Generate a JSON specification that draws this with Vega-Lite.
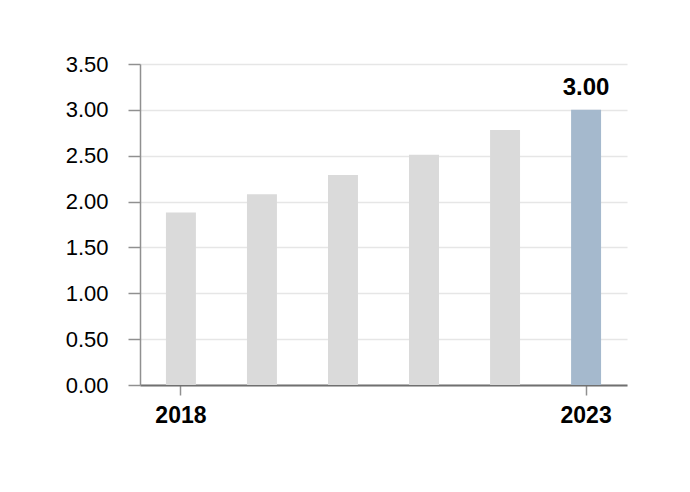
{
  "$schema": "https://vega.github.io/schema/vega-lite/v6.json",
  "width": 487,
  "height": 321,
  "autosize": {"type": "none"},
  "padding": {"left": 140, "top": 64, "right": 63, "bottom": 107},
  "background": "white",
  "data": {"values": [
    {"year": "2018", "value": 1.88, "hl": "no"},
    {"year": "2019", "value": 2.08, "hl": "no"},
    {"year": "2020", "value": 2.29, "hl": "no"},
    {"year": "2021", "value": 2.51, "hl": "no"},
    {"year": "2022", "value": 2.78, "hl": "no"},
    {"year": "2023", "value": 3.00, "hl": "yes"}
  ]},
  "config": {
    "view": {"stroke": null},
    "font": "Liberation Sans"
  },
  "encoding": {
    "x": {
      "field": "year", "type": "ordinal",
      "scale": {"paddingInner": 0.63, "paddingOuter": 0.32},
      "axis": {
        "title": null, "values": ["2018", "2023"], "labelAngle": 0,
        "labelFont": "Liberation Sans", "labelFontSize": 23, "labelFontWeight": "bold",
        "labelColor": "#000000", "labelPadding": 9,
        "tickSize": 10, "tickColor": "#909090", "tickWidth": 1.5,
        "domainColor": "#707070", "domainWidth": 2, "grid": false
      }
    },
    "y": {
      "field": "value", "type": "quantitative",
      "scale": {"domain": [0, 3.5], "nice": false},
      "axis": {
        "title": null, "values": [0, 0.5, 1, 1.5, 2, 2.5, 3, 3.5], "format": ".2f",
        "labelFont": "Liberation Sans", "labelFontSize": 22, "labelColor": "#000000",
        "labelPadding": 20,
        "tickSize": 12, "tickColor": "#909090", "tickWidth": 1.5,
        "domainColor": "#909090", "domainWidth": 1.5,
        "grid": true, "gridColor": "#e6e6e6", "gridWidth": 1.5
      }
    }
  },
  "layer": [
    {
      "mark": {"type": "bar"},
      "encoding": {
        "color": {
          "field": "hl", "type": "nominal",
          "scale": {"domain": ["no", "yes"], "range": ["#dadada", "#a5b9cd"]},
          "legend": null
        }
      }
    },
    {
      "transform": [{"filter": "datum.hl === 'yes'"}],
      "mark": {"type": "text", "baseline": "alphabetic", "dy": -15, "fontSize": 24, "fontWeight": "bold", "font": "Liberation Sans", "color": "#000000"},
      "encoding": {
        "text": {"field": "value", "type": "quantitative", "format": ".2f"}
      }
    }
  ]
}
